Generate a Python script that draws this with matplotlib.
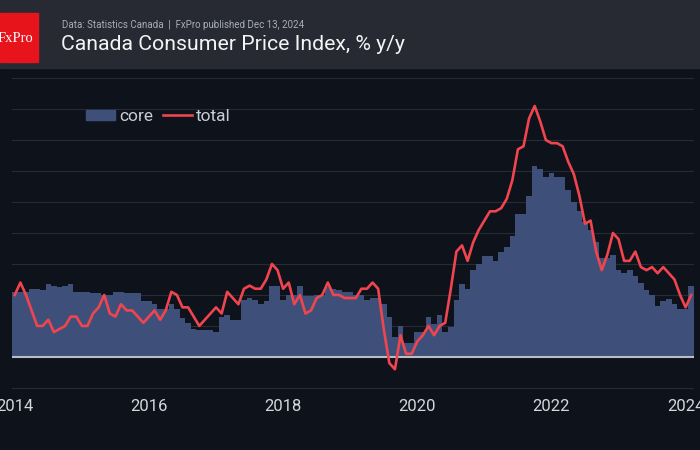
import matplotlib.pyplot as plt
import numpy as np
from matplotlib.lines import Line2D
from matplotlib.patches import Patch, Rectangle

# Canada CPI, % y/y, monthly from Sep 2014 to Oct 2024
total = [
    2.0, 2.4, 2.0, 1.5,
    1.0, 1.0, 1.2, 0.8, 0.9, 1.0, 1.3, 1.3, 1.0, 1.0, 1.4, 1.6,
    2.0, 1.4, 1.3, 1.7, 1.5, 1.5, 1.3, 1.1, 1.3, 1.5, 1.2, 1.5,
    2.1, 2.0, 1.6, 1.6, 1.3, 1.0, 1.2, 1.4, 1.6, 1.4, 2.1, 1.9,
    1.7, 2.2, 2.3, 2.2, 2.2, 2.5, 3.0, 2.8, 2.2, 2.4, 1.7, 2.0,
    1.4, 1.5, 1.9, 2.0, 2.4, 2.0, 2.0, 1.9, 1.9, 1.9, 2.2, 2.2,
    2.4, 2.2, 0.9, -0.2, -0.4, 0.7, 0.1, 0.1, 0.5, 0.7, 1.0, 0.7,
    1.0, 1.1, 2.2, 3.4, 3.6, 3.1, 3.7, 4.1, 4.4, 4.7, 4.7, 4.8,
    5.1, 5.7, 6.7, 6.8, 7.7, 8.1, 7.6, 7.0, 6.9, 6.9, 6.8, 6.3,
    5.9, 5.2, 4.3, 4.4, 3.4, 2.8, 3.3, 4.0, 3.8, 3.1, 3.1, 3.4,
    2.9, 2.8, 2.9, 2.7, 2.9, 2.7, 2.5, 2.0, 1.6, 2.0,
]
core = [
    2.1, 2.1, 2.1, 2.2,
    2.2, 2.15, 2.35, 2.3, 2.25, 2.3, 2.35, 2.1, 2.1, 2.1, 2.05, 2.05,
    2.0, 2.0, 2.1, 2.1, 2.05, 2.05, 2.05, 1.8, 1.8, 1.7, 1.55, 1.55,
    1.7, 1.55, 1.25, 1.1, 0.9, 0.87, 0.87, 0.87, 0.8, 1.3, 1.35, 1.2,
    1.2, 1.85, 1.9, 1.85, 1.7, 1.8, 2.3, 2.3, 1.85, 2.0, 2.0, 2.3,
    1.95, 1.95, 2.0, 2.0, 2.25, 2.2, 2.15, 2.1, 2.1, 2.0, 2.0, 1.85,
    1.9, 1.9, 1.7, 1.3, 0.65, 1.0, 0.45, 0.45, 0.8, 0.8, 1.3, 1.05,
    1.35, 0.8, 0.95, 1.85, 2.35, 2.2, 2.8, 3.0, 3.25, 3.25, 3.1, 3.4,
    3.55, 3.9, 4.6, 4.6, 5.2, 6.15, 6.05, 5.8, 5.95, 5.8, 5.8, 5.4,
    5.0, 4.7, 4.35, 4.1, 3.7, 3.2, 3.2, 3.3, 2.8, 2.72, 2.8, 2.6,
    2.4, 2.15, 2.0, 1.65, 1.82, 1.88, 1.7, 1.55, 1.55, 2.28,
]
tick_labels = ["2014", "2016", "2018", "2020", "2022", "2024"]

BG = "#0e121b"
HEADER = "#272a33"
CORE_COLOR = "#3e5079"
TOTAL_COLOR = "#f0454f"

W, H = 700, 450
fig = plt.figure(figsize=(W / 100, H / 100), dpi=100)
fig.patch.set_facecolor(BG)

# header band and logo
fig.patches.append(Rectangle((0, 1 - 68 / H), 1, 68 / H, transform=fig.transFigure,
                             color=HEADER, zorder=0))
fig.patches.append(Rectangle((0, 1 - 62 / H), 38 / W, 49 / H, transform=fig.transFigure,
                             color="#e8141c", zorder=1))
fig.text(15 / W, 1 - 38 / H, "FxPro", color="white", fontsize=10.5,
         family="Liberation Serif", ha="center", va="center")
fig.text(62 / W, 1 - 27.5 / H, "Data: Statistics Canada  |  FxPro published Dec 13, 2024",
         color="#a9adb5", fontsize=7, family=["Roboto", "DejaVu Sans"], va="baseline")
fig.text(61 / W, 1 - 49.5 / H, "Canada Consumer Price Index, % y/y",
         color="#f4f4f4", fontsize=15.3, family="Roboto", va="baseline")

ax = fig.add_axes([12 / W, 1 - 395 / H, 682 / W, 320 / H])
ax.set_facecolor(BG)

x = np.arange(len(total))
edges = np.arange(len(core) + 1) - 0.5
ax.stairs(core, edges, fill=True, color=CORE_COLOR, baseline=0, zorder=2)
ax.plot(x, total, color=TOTAL_COLOR, lw=1.9, zorder=4)
ax.axhline(0, color="#b9bdc5", lw=1.5, zorder=3)

ax.set_xlim(-0.5, len(total) - 0.5)
ax.set_ylim(-1.23, 9.1)
ax.set_yticks(range(-1, 10))
ax.yaxis.grid(True, color="#262b36", lw=0.8)
ax.set_axisbelow(True)
ax.tick_params(axis="y", length=0, labelleft=False)
ax.set_xticks(x[::24])
ax.set_xticklabels(tick_labels, family="Roboto", fontsize=12, color="#d4d7dd")
ax.tick_params(axis="x", length=0, pad=3)
for s in ax.spines.values():
    s.set_visible(False)

handles = [Patch(color=CORE_COLOR), Line2D([], [], color=TOTAL_COLOR, lw=1.9)]
fig.legend(handles, ["core", "total"], loc="upper left",
           bbox_to_anchor=(86 / W, 1 - 109 / H), ncol=2, frameon=False,
           prop={"family": "Roboto", "size": 12.5}, labelcolor="#c9cdd5",
           handlelength=1.65, handleheight=0.55, handletextpad=0.25,
           columnspacing=0.6, borderpad=0, borderaxespad=0)

fig.savefig("out.png", dpi=100, facecolor=BG)
